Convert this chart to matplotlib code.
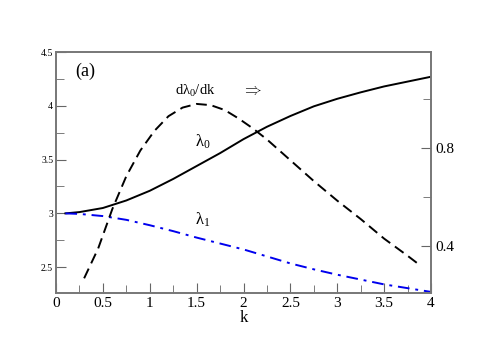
import matplotlib
matplotlib.use("Agg")
import matplotlib.pyplot as plt
from matplotlib.ticker import MultipleLocator, FuncFormatter

plt.rcParams['font.family'] = ['Liberation Serif', 'DejaVu Serif']
plt.rcParams['mathtext.fontset'] = 'custom'
plt.rcParams['mathtext.rm'] = 'Liberation Serif'
plt.rcParams['mathtext.it'] = 'Liberation Serif:italic'

k_l0 = [0.1, 0.25, 0.5, 0.75, 1.0, 1.25, 1.5, 1.75, 2.0, 2.25, 2.5, 2.75, 3.0, 3.25, 3.5, 3.75, 4.0]
lam0 = [3.0, 3.012, 3.05, 3.12, 3.21, 3.32, 3.44, 3.56, 3.69, 3.805, 3.905, 3.995, 4.065, 4.125, 4.18, 4.225, 4.27]
lam1 = [3.0, 2.995, 2.975, 2.94, 2.89, 2.835, 2.775, 2.72, 2.665, 2.60, 2.535, 2.48, 2.43, 2.385, 2.34, 2.305, 2.27]

k_d = [0.3, 0.45, 0.6, 0.75, 0.9, 1.05, 1.2, 1.35, 1.5, 1.65, 1.8, 1.95, 2.1, 2.25, 2.5, 2.75, 3.0, 3.25, 3.5, 3.75, 3.88]
dlam0 = [0.268, 0.39, 0.55, 0.685, 0.79, 0.87, 0.93, 0.965, 0.98, 0.975, 0.955, 0.92, 0.88, 0.835, 0.75, 0.665, 0.585, 0.51, 0.43, 0.36, 0.322]

fig = plt.figure(figsize=(4.85, 3.46), dpi=100)
ax = fig.add_axes([56/485, 1-293/346, (431-56)/485, (293-52)/346])
ax2 = ax.twinx()

ax.plot(k_l0, lam0, color='black', lw=1.4)
ax.plot(k_l0, lam1, color='#0000ee', lw=1.4, dashes=[6, 3, 1.5, 3])
ax2.plot(k_d, dlam0, color='black', lw=1.4, dashes=[5.5, 3])

ax.set_xlim(0, 4)
ax.set_ylim(2.26, 4.5)
ax2.set_ylim(0.208, 1.192)

ax.xaxis.set_major_locator(MultipleLocator(0.5))
ax.xaxis.set_minor_locator(MultipleLocator(0.25))
ax.yaxis.set_major_locator(MultipleLocator(0.5))
ax.yaxis.set_minor_locator(MultipleLocator(0.25))
ax2.yaxis.set_major_locator(MultipleLocator(0.4))
ax2.yaxis.set_minor_locator(MultipleLocator(0.2))

fmt = FuncFormatter(lambda v, p: f"{v:g}")
ax.xaxis.set_major_formatter(fmt)
ax.yaxis.set_major_formatter(fmt)
ax2.yaxis.set_major_formatter(fmt)

ax.tick_params(axis='x', which='both', direction='in', top=False, labelsize=11, pad=3, color='#666666')
ax.tick_params(axis='x', which='major', length=7)
ax.tick_params(axis='x', which='minor', length=6)
ax.tick_params(axis='y', which='both', direction='in', right=False, labelsize=7, pad=2, color='#666666')
ax.tick_params(axis='y', which='major', length=7)
ax.tick_params(axis='y', which='minor', length=6)
ax2.tick_params(axis='y', which='both', direction='in', labelsize=11, pad=3, color='#666666')
ax2.tick_params(axis='y', which='major', length=7)
ax2.tick_params(axis='y', which='minor', length=6)

for a in (ax, ax2):
    for s in a.spines.values():
        s.set_color('#777777')
        s.set_linewidth(1.2)

ax.set_xlabel('k', fontsize=12, labelpad=0)

ax.text(0.2, 4.28, '(a)', fontsize=13)
ax.text(1.27, 4.1, r'd$\mathrm{λ}_0$/dk', fontsize=10.5)
ax.text(1.98, 4.1, r'$\Rightarrow$', fontsize=12)
ax.text(1.48, 3.62, r'$\mathrm{λ}_0$', fontsize=12)
ax.text(1.48, 2.9, r'$\mathrm{λ}_1$', fontsize=12)

fig.savefig('out.png', dpi=100)
